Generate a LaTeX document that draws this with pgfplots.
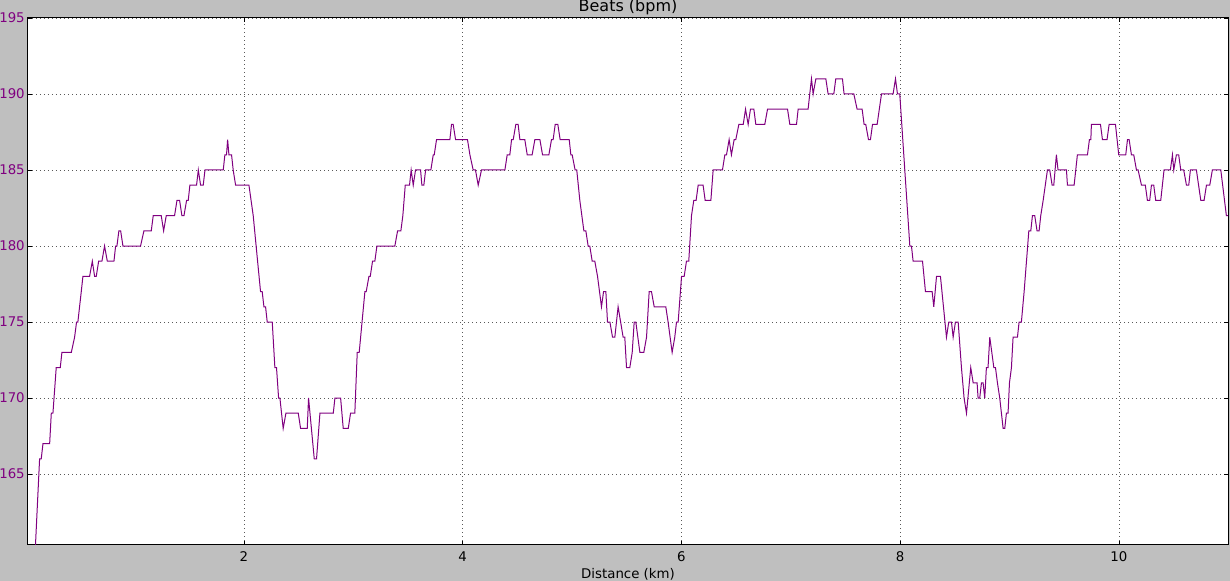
\documentclass[border=0pt]{standalone}
\usepackage{fontspec}
\setmainfont{DejaVu Sans}
\usepackage{pgfplots}
\pgfplotsset{compat=1.18}
\definecolor{bgc}{RGB}{191,191,191}
\definecolor{linec}{RGB}{128,0,128}

\pgfplotstableread{
km bpm
0.026 150
0.132 166
0.147 166
0.163 167
0.224 167
0.239 169
0.254 169
0.284 172
0.321 172
0.336 173
0.422 173
0.452 174
0.470 175
0.482 175
0.513 177
0.528 178
0.589 178
0.614 179
0.635 178
0.650 178
0.672 179
0.702 179
0.726 180
0.751 179
0.812 179
0.827 180
0.839 180
0.857 181
0.873 181
0.894 180
1.055 180
1.086 181
1.153 181
1.171 182
1.244 182
1.266 181
1.290 182
1.366 182
1.388 183
1.412 183
1.433 182
1.452 182
1.476 183
1.491 183
1.506 184
1.567 184
1.583 185
1.604 184
1.628 184
1.644 185
1.811 185
1.826 186
1.841 186
1.851 187
1.863 186
1.887 186
1.902 185
1.924 184
2.046 184
2.085 182
2.125 179
2.152 177
2.167 177
2.183 176
2.198 176
2.213 175
2.259 175
2.283 172
2.298 172
2.317 170
2.329 170
2.359 168
2.384 169
2.497 169
2.518 168
2.579 168
2.591 170
2.643 166
2.664 166
2.695 169
2.817 169
2.832 170
2.884 170
2.908 168
2.954 168
2.975 169
3.014 169
3.036 173
3.054 173
3.106 177
3.118 177
3.143 178
3.155 178
3.176 179
3.197 179
3.216 180
3.380 180
3.405 181
3.435 181
3.453 182
3.475 184
3.514 184
3.529 185
3.548 184
3.569 185
3.615 185
3.627 184
3.645 184
3.661 185
3.709 185
3.731 186
3.740 186
3.761 187
3.883 187
3.898 188
3.913 188
3.935 187
4.044 187
4.066 186
4.096 185
4.117 185
4.142 184
4.172 185
4.386 185
4.407 186
4.431 186
4.447 187
4.462 187
4.486 188
4.507 188
4.523 187
4.568 187
4.590 186
4.635 186
4.660 187
4.706 187
4.730 186
4.788 186
4.812 187
4.827 187
4.846 188
4.870 188
4.891 187
4.974 187
4.989 186
5.001 186
5.028 185
5.043 185
5.071 183
5.108 181
5.126 181
5.147 180
5.162 180
5.184 179
5.208 179
5.233 178
5.269 176
5.288 177
5.309 177
5.324 175
5.346 175
5.370 174
5.391 174
5.421 176
5.467 174
5.482 174
5.498 172
5.528 172
5.550 173
5.568 175
5.583 175
5.620 173
5.656 173
5.681 174
5.705 177
5.726 177
5.751 176
5.857 176
5.878 175
5.915 173
5.939 174
5.955 175
5.970 175
6.001 178
6.025 178
6.046 179
6.067 179
6.092 182
6.113 183
6.134 183
6.153 184
6.198 184
6.217 183
6.269 183
6.290 185
6.375 185
6.397 186
6.412 186
6.436 187
6.457 186
6.482 187
6.497 187
6.525 188
6.565 188
6.586 189
6.610 188
6.631 189
6.662 189
6.680 188
6.762 188
6.787 189
6.970 189
6.991 188
7.052 188
7.067 189
7.158 189
7.173 190
7.189 191
7.204 190
7.229 191
7.320 191
7.341 190
7.393 190
7.411 191
7.472 191
7.487 190
7.576 190
7.606 189
7.652 189
7.670 188
7.685 188
7.710 187
7.728 187
7.747 188
7.789 188
7.829 190
7.935 190
7.957 191
7.975 190
7.996 190
8.042 185
8.088 180
8.103 180
8.118 179
8.204 179
8.231 177
8.292 177
8.307 176
8.332 178
8.368 178
8.423 174
8.444 175
8.469 175
8.484 174
8.505 175
8.530 175
8.560 172
8.584 170
8.606 169
8.645 172
8.667 171
8.703 171
8.712 170
8.727 170
8.743 171
8.758 171
8.773 170
8.788 172
8.803 172
8.819 174
8.856 172
8.871 172
8.889 171
8.910 170
8.941 168
8.956 168
8.971 169
8.986 169
8.999 171
9.017 172
9.032 174
9.072 174
9.087 175
9.108 175
9.133 177
9.176 181
9.194 181
9.209 182
9.230 182
9.251 181
9.270 181
9.285 182
9.307 183
9.346 185
9.367 185
9.389 184
9.404 184
9.428 186
9.443 185
9.520 185
9.529 184
9.590 184
9.620 186
9.712 186
9.730 187
9.743 187
9.748 188
9.831 188
9.849 187
9.891 187
9.910 188
9.968 188
9.998 186
10.062 186
10.078 187
10.093 187
10.114 186
10.135 186
10.160 185
10.175 185
10.206 184
10.241 184
10.260 183
10.281 183
10.297 184
10.318 184
10.336 183
10.382 183
10.412 185
10.470 185
10.489 186
10.501 185
10.525 186
10.546 186
10.565 185
10.592 185
10.617 184
10.638 184
10.653 185
10.708 185
10.748 183
10.778 183
10.800 184
10.830 184
10.854 185
10.931 185
10.982 182
10.997 182
}\beats

\begin{document}
\begin{tikzpicture}
% figure area: 1230 x 581 px at 0.75pt per px
\path[use as bounding box, fill=bgc] (-21pt,-27pt) rectangle (901.5pt,408.75pt);
\begin{axis}[
    at={(0,0)}, anchor=south west,
    scale only axis,
    width=900pt, height=395.25pt,
    xmin=0.026, xmax=10.997,
    ymin=160.33, ymax=195,
    xtick={2,4,6,8,10},
    ytick={165,170,175,180,185,190,195},
    axis background/.style={fill=white},
    axis line style={black, line width=0.75pt},
    tick align=inside,
    xtick pos=both, ytick pos=both,
    major tick length=3.3pt,
    tick style={black, line width=0.6pt},
    grid=major,
    major grid style={black!65, line width=0.5pt, dash pattern=on 0.75pt off 2.25pt},
    /pgf/number format/assume math mode=true,
    tick label style={font=\fontsize{10}{12}\selectfont},
    yticklabel style={text=linec, inner sep=0pt, anchor=east, xshift=-2.25pt},
    xticklabel style={text=black, inner sep=0pt, anchor=base, yshift=-12.75pt},
    xlabel={Distance (km)},
    xlabel style={at={(axis description cs:0.5,0)}, anchor=base, inner sep=0pt,
                  yshift=-25pt, font=\fontsize{10}{12}\selectfont},
]
\addplot[color=linec, line width=0.75pt, mark=none] table[x=km, y=bpm] {\beats};
\end{axis}
\node[anchor=base, inner sep=0pt, font=\fontsize{12}{14}\selectfont] at (450pt,399.75pt) {Beats (bpm)};
\end{tikzpicture}
\end{document}
